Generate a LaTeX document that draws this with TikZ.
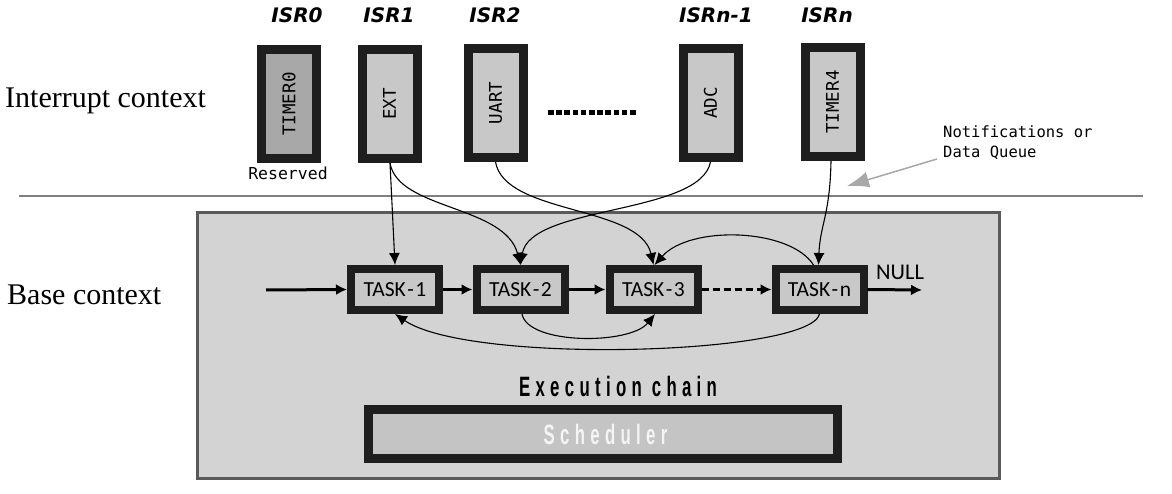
\documentclass[tikz,border=0pt]{standalone}
\usepackage{fontspec}
\setmainfont{Liberation Serif}
\newfontfamily\isrfont{DejaVu Sans}
\newfontfamily\monofont{DejaVu Sans Mono}
\newfontfamily\taskfont{Carlito}
\newfontfamily\condfont{Liberation Sans Bold}[FakeStretch=0.6,LetterSpace=19]
\usetikzlibrary{arrows.meta,calc}
\definecolor{frame}{HTML}{1E1E1E}
\definecolor{boxgray}{HTML}{C8C8C8}
\definecolor{darkbox}{HTML}{A8A8A8}
\definecolor{basegray}{HTML}{D3D3D3}
\definecolor{baseedge}{HTML}{5A5A5A}
\definecolor{sepgray}{HTML}{808080}
\definecolor{notegray}{HTML}{A8A8A8}
\definecolor{schedfill}{HTML}{C4C4C4}
\definecolor{schedtext}{HTML}{F4F4F4}
\begin{document}
\begin{tikzpicture}[x=1pt,y=-1pt,
  isrbox/.style={draw=frame,line width=9pt,fill=boxgray,minimum width=55pt,minimum height=109pt,inner sep=0pt,font=\monofont\fontsize{17.5}{20}\selectfont},
  taskbox/.style={draw=frame,line width=8pt,fill=boxgray,minimum width=88pt,minimum height=41pt,inner sep=0pt,font=\taskfont\fontsize{21.5}{24}\selectfont},
  isrlabel/.style={font=\isrfont\bfseries\itshape\fontsize{20}{22}\selectfont},
  ctxlabel/.style={anchor=base west,inner sep=0pt,font=\fontsize{30}{34}\selectfont},
  chainarrow/.style={line width=3pt,-{Latex[length=11pt,width=11pt]}},
  link/.style={line width=1.1pt,-{Latex[length=12pt,width=11pt]}},
]
\useasboundingbox (0,0) rectangle (1172,494);

% contexts
\node[ctxlabel] (ictx) at (5,108) {Interrupt context};
\node[ctxlabel] (bctx) at (7,305) {Base context};
\draw[sepgray,line width=1.5pt] (19,196) -- (1143,196);
\draw[fill=basegray,draw=baseedge,line width=3pt] (197,213) rectangle (999,478);

% ISR labels
\node[isrlabel] (l0) at (297,15) {ISR0};
\node[isrlabel] (l1) at (389,15) {ISR1};
\node[isrlabel] (l2) at (495,15) {ISR2};
\node[isrlabel] (l3) at (716,15) {ISRn-1};
\node[isrlabel] (l4) at (827,15) {ISRn};

% ISR boxes
\node[isrbox,fill=darkbox] (tim0) at (289,104) {\rotatebox{90}{TIMER0}};
\node[isrbox] (ext) at (389.5,104) {\rotatebox{90}{EXT}};
\node[isrbox] (uart) at (495.5,103) {\rotatebox{90}{UART}};
\node[isrbox] (adc) at (710.5,103) {\rotatebox{90}{ADC}};
\node[isrbox] (tim4) at (832.5,102) {\rotatebox{90}{TIMER4}};
\node[font=\monofont\fontsize{16.5}{20}\selectfont] (res) at (288,173) {Reserved};
\coordinate (dotA) at (548,113);
\coordinate (dotB) at (638,113);
\draw[line width=5pt,dash pattern=on 5.5pt off 2.7pt] (dotA) -- (dotB);

% notifications
\node[anchor=north west,align=left,inner sep=0pt,font=\monofont\fontsize{15.5}{19.5}\selectfont] (notif) at (943,126) {Notifications or\\Data Queue};
\coordinate (qstart) at (937,159);
\coordinate (qtip) at (847,186);
\draw[notegray,line width=1.5pt,-{Latex[length=22pt,width=16pt,fill=notegray]}] (qstart) -- (qtip);

% tasks
\node[taskbox] (t1) at (395,289.5) {TASK\kern1.5pt-\kern1.5pt1};
\node[taskbox] (t2) at (520.5,289.5) {TASK\kern1.5pt-\kern1.5pt2};
\node[taskbox] (t3) at (653.5,289.5) {TASK\kern1.5pt-\kern1.5pt3};
\node[taskbox] (tn) at (819.5,289.5) {TASK\kern1.5pt-\kern1.5pt n};
\coordinate (in) at (266,290);
\coordinate (out) at (922,290);
\node[font=\taskfont\fontsize{22.5}{24}\selectfont] (null) at (900,272) {NULL};

\draw[chainarrow] (in) -- (t1.west);
\draw[chainarrow] (t1.east) -- (t2.west);
\draw[chainarrow] (t2.east) -- (t3.west);
\draw[chainarrow,dash pattern=on 7pt off 4pt] (t3.east) -- (tn.west);
\draw[chainarrow] (tn.east) -- (out);

% ISR -> task links
\draw[link] ([xshift=0.5pt]ext.south) -- (t1.north);
\draw[link] ([xshift=0.5pt]ext.south) .. controls (398,210) and (505,205) .. (t2.north);
\draw[link] (uart.south) .. controls (505,215) and (640,205) .. (t3.north);
\draw[link] (adc.south) .. controls (700,215) and (530,205) .. (t2.north);
\draw[link] ([xshift=-1.5pt]tim4.south) .. controls (830,215) and (820,225) .. ([xshift=-1pt]tn.north);

% task -> task links
\draw[link] ([xshift=-6pt]tn.north) .. controls (790,228) and (690,225) .. ([xshift=1pt]t3.north);
\draw[link] ([xshift=1.5pt]t2.south) .. controls (528,345) and (630,345) .. ([xshift=1.5pt]t3.south);
\draw[link] (tn.south) .. controls (810,355) and (470,365) .. (t1.south);

% execution chain & scheduler
\node[font=\condfont\fontsize{28}{30}\selectfont] (exec) at (618,386) {Execution chain};
\node[draw=frame,line width=9pt,fill=schedfill,minimum width=469pt,minimum height=49pt,inner sep=0pt,text=schedtext,font=\condfont\fontsize{28}{30}\selectfont] (sched) at (603,434) {\hspace*{5pt}Scheduler};
\end{tikzpicture}
\end{document}
